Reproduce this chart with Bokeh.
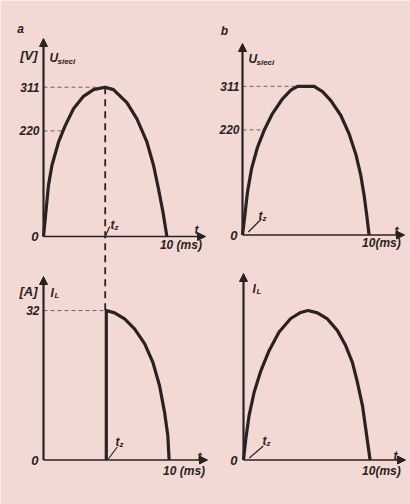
import numpy as np
from bokeh.plotting import figure
from bokeh.models import Range1d, Label, Arrow, NormalHead
from bokeh.embed import file_html
from bokeh.resources import INLINE

W, H = 410, 504
BG = "#f2d9d4"
INK = "#2a2222"
GUIDE = "#74625f"
FONT = "Liberation Sans"

# ---------------- values ----------------
peak_voltage = 311          # V
rms_voltage = 220           # V
peak_current = 32           # A
half_period_ms = 10         # ms
firing_late_ms = 5.0        # t_z in a / lower-left
firing_early_ms = 0.3       # t_z in b / lower-right

# a: mains voltage
t_ua = [0, 0.22, 0.40, 0.68, 1.22, 1.76, 2.43, 3.24, 4.05, 5.0,
        5.67, 6.76, 7.57, 8.38, 8.92, 9.32, 9.68, 10]
ua = [0, 58, 106, 148, 197, 231, 266, 292, 306, 311,
      306, 279, 245, 197, 148, 99, 51, 0]

# b: mains voltage
t_ub = [0, 0.18, 0.39, 0.71, 1.19, 1.71, 2.37, 3.16, 3.82, 4.35,
        5.66, 6.32, 6.98, 7.77, 8.43, 8.95, 9.35, 9.61, 9.82, 10]
ub = [0, 40, 89, 138, 184, 219, 254, 285, 303, 311,
      311, 300, 281, 250, 211, 169, 124, 82, 40, 0]

# lower-left: load current, thyristor fired at t_z = 5 ms
t_ic = [5, 5, 5.66, 6.46, 7.25, 8.05, 8.71, 9.24, 9.64, 9.90, 10]
ic = [0, 32, 31.5, 30.2, 28.1, 24.9, 20.9, 15.9, 10.2, 5.2, 0]

# lower-right: load current, fired right at the start
t_id = [0, 0.18, 0.44, 0.84, 1.37, 2.02, 2.81, 3.73, 4.52, 5.10,
        5.84, 6.63, 7.42, 8.07, 8.60, 9.00, 9.40, 9.66, 10]
id_ = [0, 4.5, 9.5, 14.5, 19.1, 23.4, 27.4, 30.3, 31.6, 32,
       31.5, 30.2, 27.7, 24.5, 20.9, 16.6, 11.6, 6.6, 0]

# ---------------- panel layout (pixels) ----------------
# ox, oy: page position of the origin; sx, sy: pixels per unit;
# top / right: pixel ends of the axis arrows
PANELS = {
    "a": dict(ox=43, oy=236, sx=12.34, sy=0.480, top=38, right=205),
    "b": dict(ox=242, oy=234.5, sx=12.66, sy=0.478, top=43, right=404),
    "c": dict(ox=43, oy=459.5, sx=12.56, sy=4.67, top=276, right=207),
    "d": dict(ox=243, oy=459.5, sx=12.66, sy=4.67, top=273, right=405),
}

p = figure(width=W, height=H, x_range=Range1d(0, W), y_range=Range1d(-H, 0),
           x_axis_type=None, y_axis_type=None, toolbar_location=None,
           output_backend="svg", min_border=0)
p.background_fill_color = BG
p.border_fill_color = BG
p.outline_line_color = None
p.grid.visible = False

for k, c in PANELS.items():
    p.extra_x_ranges[k] = Range1d(-c["ox"] / c["sx"], (W - c["ox"]) / c["sx"])
    p.extra_y_ranges[k] = Range1d(-(H - c["oy"]) / c["sy"], c["oy"] / c["sy"])


def pix(k, x, y):
    """page pixel -> panel coordinates"""
    c = PANELS[k]
    return (x - c["ox"]) / c["sx"], (c["oy"] - y) / c["sy"]


def rng(k):
    return dict(x_range_name=k, y_range_name=k)


def label(k, x, y, text, size=12, align="left", baseline="alphabetic",
          dx=0, dy=0, style="bold italic", color=INK):
    p.add_layout(Label(x=x, y=y, text=text, x_offset=dx, y_offset=dy,
                       text_font=FONT, text_font_size=f"{size}px",
                       text_font_style=style, text_align=align,
                       text_baseline=baseline, text_color=color, **rng(k)))


def plabel(k, px_, py_, text, **kw):
    x, y = pix(k, px_, py_)
    label(k, x, y, text, **kw)


def axes(k):
    c = PANELS[k]
    _, ytop = pix(k, 0, c["top"])
    xend, _ = pix(k, c["right"], 0)
    p.add_layout(Arrow(x_start=0, y_start=0, x_end=0, y_end=ytop,
                       line_color=INK, line_width=2.2,
                       end=NormalHead(size=8, fill_color=INK, line_color=INK),
                       **rng(k)))
    p.add_layout(Arrow(x_start=0, y_start=0, x_end=xend, y_end=0,
                       line_color=INK, line_width=1.4,
                       end=NormalHead(size=8, fill_color=INK, line_color=INK),
                       **rng(k)))


def guide(k, x0, y0, x1, y1, width=1.0, dash="4 3", color=GUIDE):
    p.segment(x0=[x0], y0=[y0], x1=[x1], y1=[y1], line_color=color,
              line_width=width, line_dash=dash, **rng(k))


def leader(k, t, px0, py0, px1, py1):
    # short pointer from the t_z label down to the time axis (pixel offsets, up = +)
    c = PANELS[k]
    p.segment(x0=[t + px0 / c["sx"]], y0=[py0 / c["sy"]],
              x1=[t + px1 / c["sx"]], y1=[py1 / c["sy"]],
              line_color=INK, line_width=1.2, **rng(k))


def crossing(ts, vs, level):
    half = int(np.argmax(vs)) + 1
    return float(np.interp(level, vs[:half], ts[:half]))


def curve(k, ts, vs):
    p.line(ts, vs, line_color=INK, line_width=3.2, line_join="round", **rng(k))


# ---------------- a ----------------
axes("a")
guide("a", 0, peak_voltage, firing_late_ms, peak_voltage)
guide("a", 0, rms_voltage, crossing(t_ua, ua, rms_voltage), rms_voltage)
ca, cc = PANELS["a"], PANELS["c"]
bottom_a = (ca["oy"] - (cc["oy"] - peak_current * cc["sy"])) / ca["sy"]
guide("a", firing_late_ms, peak_voltage, firing_late_ms, bottom_a,
      width=1.8, dash="7 5", color=INK)
curve("a", t_ua, ua)
plabel("a", 20, 28, "a", size=12, align="center")
plabel("a", 37, 55, "[V]", size=13, align="right")
plabel("a", 49, 57, "U", size=12)
plabel("a", 57, 61, "sieci", size=8)
label("a", 0, peak_voltage, str(peak_voltage), align="right", baseline="middle", dx=-4)
label("a", 0, rms_voltage, str(rms_voltage), align="right", baseline="middle", dx=-4)
label("a", 0, 0, "0", align="right", baseline="middle", dx=-5, size=13)
plabel("a", 110, 224, "t", size=12)
plabel("a", 114, 227, "z", size=8)
leader("a", firing_late_ms, 0.5, 1, 4.5, 10)
plabel("a", 196, 229, "t", size=12, align="center")
label("a", half_period_ms, 0, "10 (ms)", dx=-7, dy=-1, baseline="top", size=12)

# ---------------- b ----------------
axes("b")
guide("b", 0, peak_voltage, t_ub[ub.index(peak_voltage)], peak_voltage)
guide("b", 0, rms_voltage, crossing(t_ub, ub, rms_voltage), rms_voltage)
curve("b", t_ub, ub)
plabel("b", 224, 30, "b", size=12, align="center")
plabel("b", 248, 58, "U", size=12)
plabel("b", 256, 62, "sieci", size=8)
label("b", 0, peak_voltage, str(peak_voltage), align="right", baseline="middle", dx=-3)
label("b", 0, rms_voltage, str(rms_voltage), align="right", baseline="middle", dx=-3)
label("b", 0, 0, "0", align="right", baseline="middle", dx=-5, size=13)
plabel("b", 258, 215, "t", size=12)
plabel("b", 262, 218, "z", size=8)
leader("b", firing_early_ms, 2, 3, 14, 15)
plabel("b", 396, 230, "t", size=12, align="center")
label("b", half_period_ms, 0, "10(ms)", dx=-7, dy=-1, baseline="top", size=12)

# ---------------- lower-left ----------------
axes("c")
guide("c", 0, peak_current, firing_late_ms, peak_current)
curve("c", t_ic, ic)
plabel("c", 37, 291, "[A]", size=13, align="right")
plabel("c", 50, 292, "I", size=12)
plabel("c", 54, 295, "L", size=8)
label("c", 0, peak_current, str(peak_current), align="right", baseline="middle", dx=-4)
label("c", 0, 0, "0", align="right", baseline="middle", dx=-5, size=13)
plabel("c", 115, 441, "t", size=12)
plabel("c", 119, 444, "z", size=8)
leader("c", firing_late_ms, 2, 1, 11, 13)
plabel("c", 199, 456, "t", size=12, align="center")
label("c", half_period_ms, 0, "10 (ms)", dx=-6, dy=-4, baseline="top", size=12)

# ---------------- lower-right ----------------
axes("d")
curve("d", t_id, id_)
plabel("d", 252, 288, "I", size=12)
plabel("d", 256, 291, "L", size=8)
label("d", 0, 0, "0", align="right", baseline="middle", dx=-6, size=13)
plabel("d", 262, 440, "t", size=12)
plabel("d", 266, 443, "z", size=8)
leader("d", firing_early_ms, 2, 2, 16, 14)
plabel("d", 395, 455, "t", size=12, align="center")
label("d", half_period_ms, 0, "10(ms)", dx=-8, dy=-4, baseline="top", size=12)

open("out.html", "w").write(file_html(p, INLINE))
